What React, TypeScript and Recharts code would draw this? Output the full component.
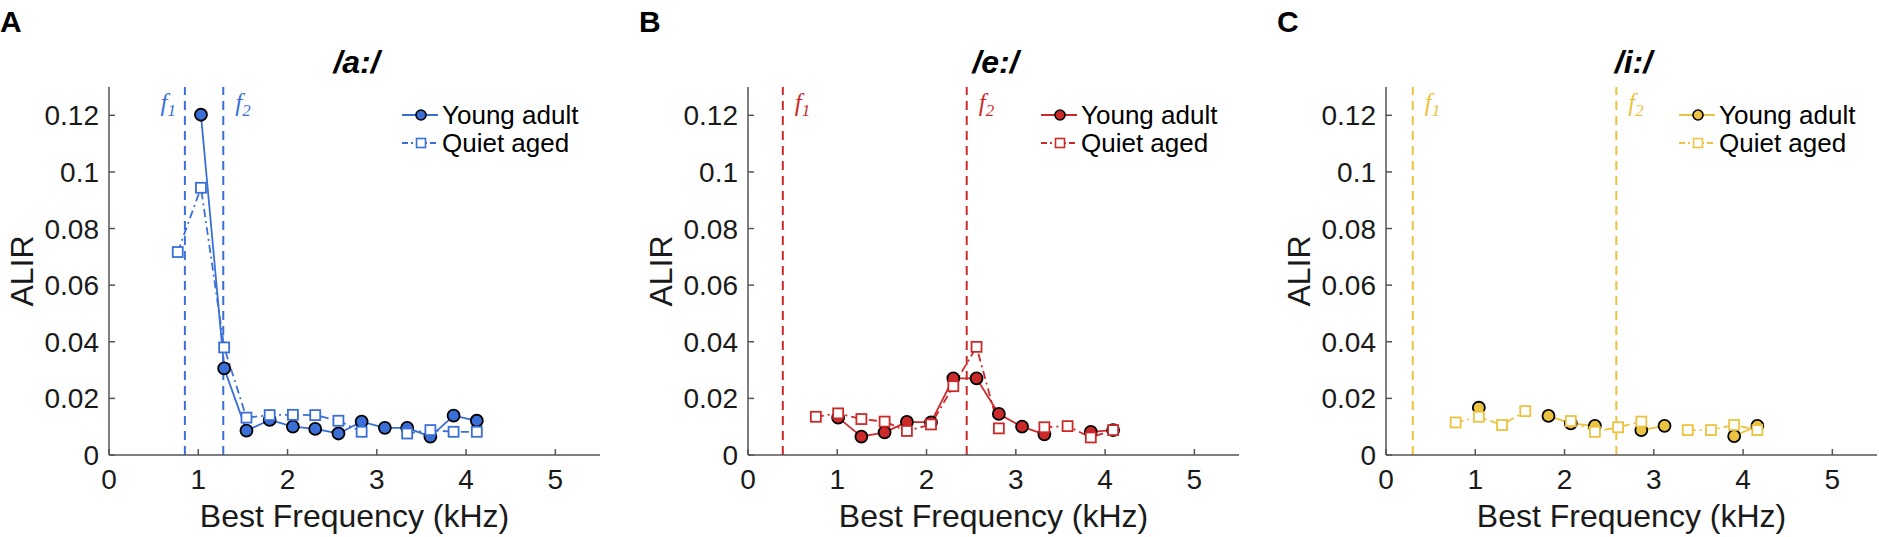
import { LineChart, Line, XAxis, YAxis, ReferenceLine, Legend, Label } from 'recharts'

// best frequency bins (kHz) per vowel
const BF_A = [0.77, 1.03, 1.29, 1.54, 1.8, 2.06, 2.31, 2.57, 2.83, 3.09, 3.34, 3.6, 3.86, 4.12]
const BF_E = [0.76, 1.01, 1.27, 1.53, 1.78, 2.05, 2.3, 2.56, 2.81, 3.07, 3.32, 3.58, 3.84, 4.09]
const BF_I = [0.78, 1.04, 1.3, 1.56, 1.82, 2.07, 2.34, 2.6, 2.86, 3.12, 3.38, 3.64, 3.9, 4.16]

const YOUNG_A = [null, 0.1202, 0.0306, 0.0086, 0.0124, 0.01, 0.0092, 0.0076, 0.0118, 0.0096, 0.0096, 0.0065, 0.0139, 0.0121]
const QUIET_A = [0.0717, 0.0944, 0.038, 0.0132, 0.0141, 0.0142, 0.0141, 0.0121, 0.0082, null, 0.0076, 0.0088, 0.0082, 0.0082]

const YOUNG_E = [null, 0.0132, 0.0065, 0.008, 0.0117, 0.0115, 0.0271, 0.0271, 0.0145, 0.01, 0.0073, null, 0.0082, 0.0088]
const QUIET_E = [0.0135, 0.0147, 0.0127, 0.0118, 0.0085, 0.0108, 0.0243, 0.0382, 0.0094, null, 0.0098, 0.0102, 0.0062, 0.0088]

const YOUNG_I = [null, 0.0167, null, null, 0.0138, 0.0112, 0.0103, null, 0.0088, 0.0103, null, null, 0.0067, 0.0103]
const QUIET_I = [0.0115, 0.0135, 0.0106, 0.0155, null, 0.012, 0.0082, 0.0098, 0.0118, null, 0.0088, 0.0088, 0.0106, 0.0088]

// formant frequencies (kHz)
const FORMANTS_A = [0.85, 1.28]
const FORMANTS_E = [0.39, 2.45]
const FORMANTS_I = [0.3, 2.58]

const X_TICKS = [0, 1, 2, 3, 4, 5]
const Y_TICKS = [0, 0.02, 0.04, 0.06, 0.08, 0.1, 0.12]
const SERIES_NAMES = ['Young adult', 'Quiet aged']

const FONT = '"Liberation Sans", Arial, Helvetica, sans-serif'
const SERIF = '"Liberation Serif", "Times New Roman", serif'
const AXIS = '#555'

const W = 602
const H = 537

function fmtY(v: number) {
  return v === 0 ? '0' : String(+v.toFixed(2))
}

function YTick({ x, y, payload }: any) {
  const ax = x + 10
  return (
    <g>
      <line x1={ax} x2={ax + 6} y1={y} y2={y} stroke={AXIS} strokeWidth={1.5} />
      <text x={x} y={y} dy="0.36em" textAnchor="end" fontFamily={FONT} fontSize={28} fill="#1a1a1a">
        {fmtY(payload.value)}
      </text>
    </g>
  )
}

function XTick({ x, y, payload }: any) {
  const ay = y - 14
  return (
    <g>
      <line x1={x} x2={x} y1={ay} y2={ay - 6} stroke={AXIS} strokeWidth={1.5} />
      <text x={x} y={y} dy="0.72em" textAnchor="middle" fontFamily={FONT} fontSize={28} fill="#1a1a1a">
        {payload.value}
      </text>
    </g>
  )
}

const circleDot = (color: string) => (p: any) => {
  if (p.cy == null || p.value == null) return <g key={p.key} />
  return <circle key={p.key} cx={p.cx} cy={p.cy} r={6} fill={color} stroke="#000" strokeWidth={1.8} />
}

const squareDot = (color: string) => (p: any) => {
  if (p.cy == null || p.value == null) return <g key={p.key} />
  return <rect key={p.key} x={p.cx - 5} y={p.cy - 5} width={10} height={10} fill="#fff" stroke={color} strokeWidth={1.8} />
}

const formantLabel = (sub: string, side: 'left' | 'right', color: string) => (p: any) => {
  const vb = p.viewBox || {}
  const x = side === 'left' ? vb.x - 9 : vb.x + 12
  return (
    <text x={x} y={vb.y + 24} textAnchor={side === 'left' ? 'end' : 'start'} fill={color}
      fontFamily={SERIF} fontStyle="italic" fontSize={25}>
      f<tspan fontSize={17} dy={5}>{sub}</tspan>
    </text>
  )
}

function LegendBox({ color }: { color: string }) {
  return (
    <div style={{ fontFamily: FONT, fontSize: 26, color: '#000' }}>
      {SERIES_NAMES.map((name, i) => (
        <div key={name} style={{ display: 'flex', alignItems: 'center', height: 28 }}>
          <svg width={36} height={28}>
            <line x1={0} x2={36} y1={14} y2={14} stroke={color} strokeWidth={1.8}
              strokeDasharray={i === 0 ? undefined : '6 3 2 3'} />
            {i === 0 ? (
              <circle cx={19} cy={14} r={5} fill={color} stroke="#000" strokeWidth={1.6} />
            ) : (
              <rect x={14.5} y={9.5} width={9} height={9} fill="#fff" stroke={color} strokeWidth={1.6} />
            )}
          </svg>
          <span style={{ marginLeft: 4, whiteSpace: 'nowrap' }}>{name}</span>
        </div>
      ))}
    </div>
  )
}

type PanelProps = {
  letter: string
  title: string
  color: string
  bf: number[]
  young: (number | null)[]
  quiet: (number | null)[]
  formants: number[]
  f1Side: 'left' | 'right'
  left: number
}

function Panel({ letter, title, color, bf, young, quiet, formants, f1Side, left }: PanelProps) {
  const data = bf.map((f, i) => ({ f, young: young[i], quiet: quiet[i] }))
  return (
    <div style={{ position: 'absolute', left, top: 0, width: W, height: H }}>
      <div style={{ position: 'absolute', left: 0, top: 7, fontFamily: FONT, fontWeight: 900, fontSize: 30, lineHeight: 1 }}>
        {letter}
      </div>
      <div style={{ position: 'absolute', left: 109, width: 491, top: 46, textAlign: 'center', fontFamily: FONT,
        fontWeight: 'bold', fontStyle: 'italic', fontSize: 32, lineHeight: 1, paddingLeft: 4, boxSizing: 'border-box' }}>
        {title}
      </div>
      <LineChart width={W} height={H} data={data} margin={{ top: 87, right: 2, bottom: 0, left: 0 }}>
        <XAxis type="number" dataKey="f" domain={[0, 5.5]} ticks={X_TICKS} allowDataOverflow
          height={82} tickSize={0} tickMargin={14} tick={<XTick />} stroke={AXIS} strokeWidth={1.5}>
          <Label value="Best Frequency (kHz)" position="insideBottom" offset={10}
            style={{ fontFamily: FONT, fontSize: 32, fill: '#1a1a1a' }} />
        </XAxis>
        <YAxis type="number" domain={[0, 0.13]} ticks={Y_TICKS} allowDataOverflow width={109}
          tickSize={0} tickMargin={10} tick={<YTick />} stroke={AXIS} strokeWidth={1.5}>
          <Label
            content={(p: any) => {
              const vb = p.viewBox || {}
              const cx = vb.x + 21
              const cy = vb.y + vb.height / 2
              return (
                <text x={cx} y={cy} transform={`rotate(-90 ${cx} ${cy})`} textAnchor="middle" dy="0.36em"
                  fontFamily={FONT} fontSize={32} fill="#1a1a1a">
                  ALIR
                </text>
              )
            }}
          />
        </YAxis>
        <ReferenceLine x={formants[0]} stroke={color} strokeWidth={2} strokeDasharray="9 6"
          label={formantLabel('1', f1Side, color)} />
        <ReferenceLine x={formants[1]} stroke={color} strokeWidth={2} strokeDasharray="9 6"
          label={formantLabel('2', 'right', color)} />
        <Legend layout="horizontal" verticalAlign="middle" align="center"
          wrapperStyle={{ left: 402, top: 101, width: 200, height: 56 }}
          content={() => <LegendBox color={color} />} />
        <Line dataKey="young" name={SERIES_NAMES[0]} stroke={color} strokeWidth={1.8} dot={circleDot(color)}
          activeDot={false} isAnimationActive={false} />
        <Line dataKey="quiet" name={SERIES_NAMES[1]} stroke={color} strokeWidth={1.8} strokeDasharray="8 4 2 4"
          dot={squareDot(color)} activeDot={false} isAnimationActive={false} />
      </LineChart>
    </div>
  )
}

export default function App() {
  return (
    <div style={{ position: 'absolute', left: 0, top: 0, width: 1879, height: 537, overflow: 'hidden', background: '#fff' }}>
      <Panel letter="A" title="/a:/" color="#3b6fd8" bf={BF_A} young={YOUNG_A} quiet={QUIET_A}
        formants={FORMANTS_A} f1Side="left" left={0} />
      <Panel letter="B" title="/e:/" color="#cc2a2a" bf={BF_E} young={YOUNG_E} quiet={QUIET_E}
        formants={FORMANTS_E} f1Side="right" left={639} />
      <Panel letter="C" title="/i:/" color="#ebc340" bf={BF_I} young={YOUNG_I} quiet={QUIET_I}
        formants={FORMANTS_I} f1Side="right" left={1277} />
    </div>
  )
}
